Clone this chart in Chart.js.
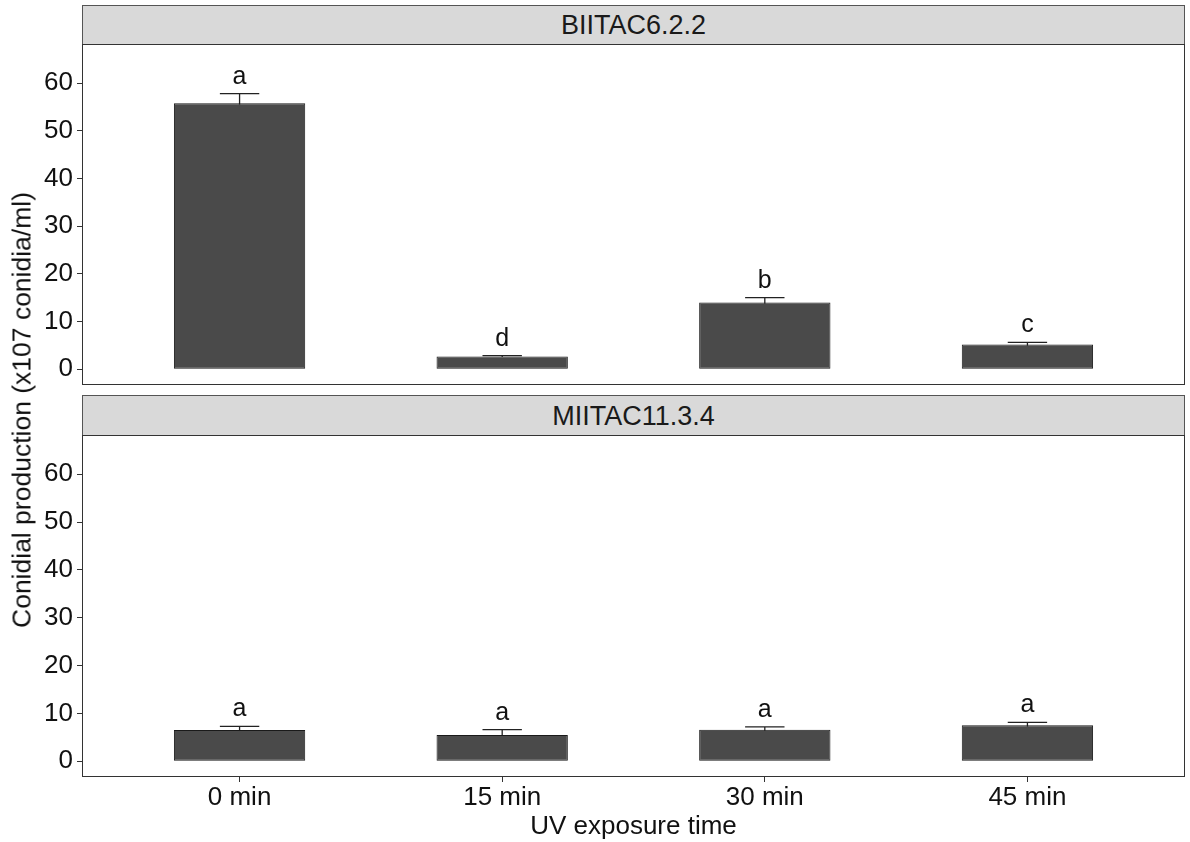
<!DOCTYPE html>
<html>
<head>
  <title>Conidial production after UV exposure</title>
  <script src="https://cdn.jsdelivr.net/npm/chart.js"></script>
  <style>
    body { margin: 0; background: #fff; font-family: "Liberation Sans", Arial, sans-serif; }
    #wrap { position: relative; width: 1190px; height: 842px; }
    .strip { position: absolute; left: 82px; width: 1103px; background: #d9d9d9; border: 1px solid #555;
             font-size: 27px; color: #1a1a1a; text-align: center; box-sizing: border-box; }
    canvas { position: absolute; }
    #ytitle { position: absolute; left: 22px; top: 410px; transform: translate(-50%, -50%) rotate(-90deg);
              white-space: nowrap; font-size: 26.5px; color: #111; }
  </style>
</head>
<body>
<div id="wrap">
  <div class="strip" id="strip0" style="top:5px;height:40px;line-height:39px;"></div>
  <canvas id="chartTop" width="1158" height="341" style="left:32px;top:44px;"></canvas>
  <div class="strip" id="strip1" style="top:395px;height:41px;line-height:40px;"></div>
  <canvas id="chartBottom" width="1158" height="407" style="left:32px;top:435px;"></canvas>
  <div id="ytitle">Conidial production (x107 conidia/ml)</div>
</div>

<script>
  // data
  const categories = ['0 min', '15 min', '30 min', '45 min'];
  const strains = ['BIITAC6.2.2', 'MIITAC11.3.4'];
  const meansB = [55.8, 2.7, 14.0, 5.2];
  const seB = [2.0, 0.15, 1.0, 0.45];
  const lettersB = ['a', 'd', 'b', 'c'];
  const meansM = [6.5, 5.5, 6.6, 7.5];
  const seM = [0.8, 1.1, 0.6, 0.6];
  const lettersM = ['a', 'a', 'a', 'a'];
  const yTicks = [0, 10, 20, 30, 40, 50, 60];

  Chart.defaults.font.family = '"Liberation Sans", Arial, sans-serif';
  Chart.defaults.font.size = 26;
  Chart.defaults.color = '#111';

  document.getElementById('strip0').textContent = strains[0];
  document.getElementById('strip1').textContent = strains[1];

  // error bars, letters and panel border
  const extras = {
    id: 'extras',
    beforeDatasetsDraw(chart, args, opts) {
      const ctx = chart.ctx, xs = chart.scales.x, ys = chart.scales.y;
      ctx.save();
      ctx.strokeStyle = '#222';
      ctx.lineWidth = 1.3;
      opts.means.forEach((m, i) => {
        const x = xs.getPixelForValue(i);
        const half = xs.getPixelForValue(i + 0.075) - x;
        const yTop = ys.getPixelForValue(m + opts.se[i]);
        const yLow = ys.getPixelForValue(m - opts.se[i]);
        ctx.beginPath();
        ctx.moveTo(x, yLow); ctx.lineTo(x, yTop);
        ctx.moveTo(x - half, yTop); ctx.lineTo(x + half, yTop);
        ctx.stroke();
      });
      ctx.restore();
    },
    afterDatasetsDraw(chart, args, opts) {
      const ctx = chart.ctx, xs = chart.scales.x, ys = chart.scales.y;
      const a = chart.chartArea;
      ctx.save();
      ctx.fillStyle = '#111';
      ctx.font = '25px "Liberation Sans", Arial, sans-serif';
      ctx.textAlign = 'center';
      ctx.textBaseline = 'alphabetic';
      opts.means.forEach((m, i) => {
        const x = xs.getPixelForValue(i);
        const yTop = ys.getPixelForValue(m + opts.se[i]);
        ctx.fillText(opts.letters[i], x, yTop - 10);
      });
      ctx.strokeStyle = '#333';
      ctx.lineWidth = 1;
      ctx.strokeRect(a.left + 0.5, a.top + 0.5, a.right - a.left - 1, a.bottom - a.top - 1);
      ctx.restore();
    }
  };

  function noPad(s) {
    s.paddingTop = 0; s.paddingBottom = 0; s.paddingLeft = 0; s.paddingRight = 0;
  }

  function makePanel(id, means, se, letters, showX) {
    const ctx = document.getElementById(id).getContext('2d');
    return new Chart(ctx, {
      type: 'bar',
      data: {
        datasets: [{
          data: means.map((v, i) => ({ x: i, y: v })),
          backgroundColor: '#4a4a4a',
          borderColor: '#1a1a1a',
          borderWidth: 1,
          borderSkipped: false,
          barPercentage: 0.5,
          categoryPercentage: 1.0
        }]
      },
      options: {
        responsive: false,
        animation: false,
        devicePixelRatio: 1,
        layout: { autoPadding: false, padding: { left: 0, right: 5, top: 0, bottom: 0 } },
        plugins: {
          legend: { display: false },
          tooltip: { enabled: false },
          extras: { means: means, se: se, letters: letters }
        },
        scales: {
          x: {
            type: 'linear',
            display: showX,
            offset: false,
            min: -0.6,
            max: 3.6,
            afterBuildTicks: s => { s.ticks = categories.map((c, i) => ({ value: i })); },
            afterFit: s => { noPad(s); if (showX) s.height = 65; },
            ticks: {
              color: '#111',
              padding: 0,
              callback: v => categories[v]
            },
            grid: { offset: false, drawOnChartArea: false, drawTicks: true, tickLength: 5, tickColor: '#333' },
            border: { display: false },
            title: { display: showX, text: 'UV exposure time', color: '#111',
                     padding: { top: 0, bottom: 0 } }
          },
          y: {
            min: -3.3,
            max: 68.2,
            afterBuildTicks: s => { s.ticks = yTicks.map(v => ({ value: v })); },
            afterFit: s => { noPad(s); s.width = 50; },
            ticks: { color: '#111', padding: 4 },
            grid: { drawOnChartArea: false, drawTicks: true, tickLength: 5, tickColor: '#333' },
            border: { display: false }
          }
        }
      },
      plugins: [extras]
    });
  }

  makePanel('chartTop', meansB, seB, lettersB, false);
  makePanel('chartBottom', meansM, seM, lettersM, true);
</script>
</body>
</html>
